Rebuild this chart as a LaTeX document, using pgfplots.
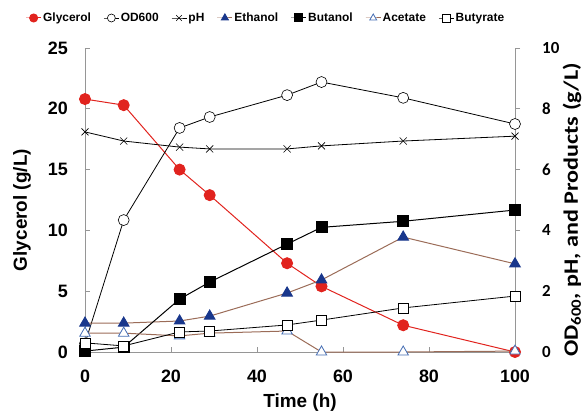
\documentclass[border=0pt]{standalone}
\usepackage{pgfplots}
\pgfplotsset{compat=1.18}
\usepackage{fontspec}
\setmainfont{Liberation Sans}
\newfontfamily\carlito{Carlito}
\definecolor{gly}{RGB}{225,35,30}
\definecolor{eth}{RGB}{25,55,140}
\definecolor{brn}{RGB}{155,108,88}
\definecolor{ace}{RGB}{70,110,180}
\definecolor{spine}{RGB}{150,150,150}

\begin{document}
\begin{tikzpicture}
\pgfplotsset{
  base/.style={
    at={(0,0)}, anchor=south west,
    width=430bp, height=304bp, scale only axis,
    xmin=0, xmax=100, clip=false,
    axis line style={spine, line width=0.7bp},
    major tick style={spine, line width=0.7bp},
    major tick length=5bp,
    /pgf/number format/assume math mode=true,
  },
  legend image code/.code={
    \draw[mark repeat=2, mark phase=2] plot coordinates {(0bp,0bp) (7.5bp,0bp) (15bp,0bp)};
  },
}
% left axis: glycerol
\begin{axis}[base,
  ymin=0, ymax=25,
  axis x line*=bottom, axis y line*=left,
  xtick={0,20,...,100}, ytick={0,5,...,25},
  tick align=inside,
  ticklabel style={font=\fontsize{18}{20}\selectfont\bfseries, inner sep=0pt},
  xticklabel style={anchor=center, yshift=-24bp},
  yticklabel style={anchor=east, xshift=-17bp},
  xlabel={Time (h)}, ylabel={Glycerol (g/L)},
  xlabel style={font=\fontsize{19}{21}\selectfont\bfseries, at={(axis description cs:0.5,-0.168)}, anchor=center},
  ylabel style={font=\fontsize{19}{21}\selectfont\bfseries, at={(axis description cs:-0.1465,0.467)}, anchor=center},
]
\addplot[gly, line width=1bp, mark=*, mark size=5.5bp] coordinates {
  (0,20.8) (9,20.3) (22,15.0) (29,12.9) (47,7.3) (55,5.4) (74,2.2) (100,0)
};
\end{axis}

% right axis: OD600, pH and products
\begin{axis}[base,
  ymin=0, ymax=10,
  axis y line*=right, axis x line=none,
  ytick={0,2,...,10},
  tick align=outside,
  yticklabel style={font=\fontsize{17}{19}\selectfont\carlito\bfseries, inner sep=0pt, anchor=west, xshift=22bp},
  ylabel={OD\textsubscript{600}, pH, and Products (g/L)},
  ylabel style={font=\fontsize{20.5}{22}\selectfont\carlito\bfseries, at={(axis description cs:1.1326,0.467)}, anchor=center, xscale=1.18},
  legend columns=7,
  legend style={draw=none, fill=none, at={(0.419,1)}, anchor=center, yshift=30bp,
    font=\fontsize{12}{14}\selectfont\bfseries,
    nodes={inner sep=0.5bp},
    /tikz/every odd column/.append style={column sep=1bp},
    /tikz/every even column/.append style={column sep=12bp}},
  legend image post style={mark size=4bp},
]
\addlegendimage{gly, line width=1bp, mark=*}
\addlegendentry{Glycerol}
\addplot[black, line width=0.8bp, mark=*, mark size=5.5bp, mark options={fill=white, line width=0.6bp}] coordinates {
  (0,0.28) (9,4.34) (22,7.37) (29,7.73) (47,8.45) (55,8.88) (74,8.36) (100,7.5)
};
\addlegendentry{OD600}
\addplot[black, line width=0.8bp, mark=x, mark size=5bp, mark options={line width=0.6bp}] coordinates {
  (0,7.24) (9,6.94) (22,6.74) (29,6.68) (47,6.68) (55,6.78) (74,6.94) (100,7.1)
};
\addlegendentry{pH}
\addplot[brn, line width=1bp, mark=triangle*, mark size=6bp, mark options={eth, fill=eth}] coordinates {
  (0,0.95) (9,0.95) (22,1.02) (29,1.18) (47,1.94) (55,2.37) (74,3.78) (100,2.9)
};
\addlegendentry{Ethanol}
\addplot[black, line width=1bp, mark=square*, mark size=5.5bp] coordinates {
  (0,0.03) (9,0.16) (22,1.74) (29,2.3) (47,3.55) (55,4.1) (74,4.3) (100,4.67)
};
\addlegendentry{Butanol}
\addplot[brn, line width=1bp, mark=triangle*, mark size=6bp, mark options={ace, fill=white, line width=0.8bp}] coordinates {
  (0,0.62) (9,0.62) (22,0.53) (29,0.62) (47,0.69) (55,0) (74,0) (100,0.03)
};
\addlegendentry{Acetate}
\addplot[black, line width=0.8bp, mark=square*, mark size=5bp, mark options={fill=white, line width=0.6bp}] coordinates {
  (0,0.3) (9,0.2) (22,0.66) (29,0.69) (47,0.89) (55,1.05) (74,1.45) (100,1.84)
};
\addlegendentry{Butyrate}
\end{axis}
\pgfresetboundingbox
\path[use as bounding box] (-85bp,-64bp) rectangle (500bp,352bp);
\end{tikzpicture}
\end{document}
